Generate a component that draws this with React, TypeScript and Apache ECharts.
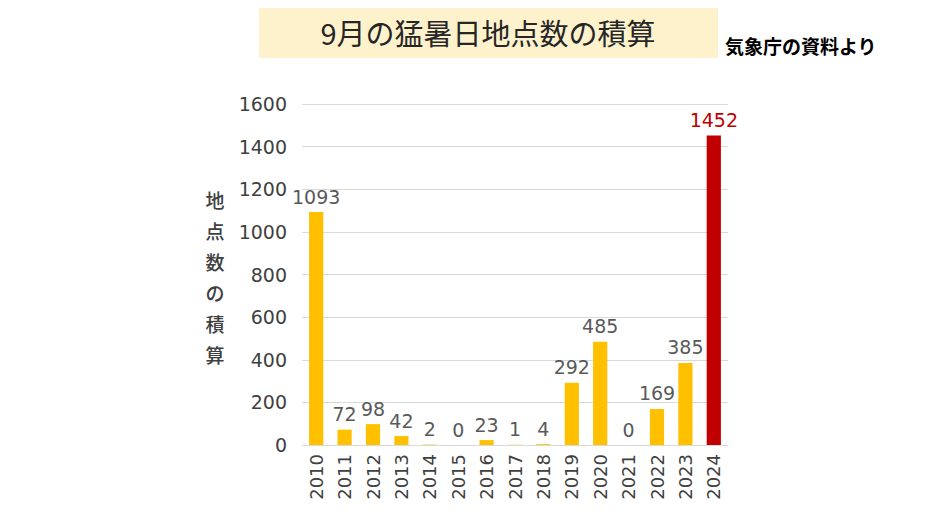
import React, { useEffect, useRef } from "react";
import * as echarts from "echarts";

const years = ["2010","2011","2012","2013","2014","2015","2016","2017","2018","2019","2020","2021","2022","2023","2024"];
const counts = [1093, 72, 98, 42, 2, 0, 23, 1, 4, 292, 485, 0, 169, 385, 1452];
const highlightYear = "2024";
const yTicks = [0, 200, 400, 600, 800, 1000, 1200, 1400, 1600];

const YELLOW = "#FFC000";
const RED = "#C00000";

export default function App() {
  const ref = useRef<HTMLDivElement>(null);
  useEffect(() => {
    if (!ref.current) return;
    const chart = echarts.init(ref.current, null, { renderer: "svg" });
    const data = counts.map((v, i) => {
      const hi = years[i] === highlightYear;
      return {
        value: v,
        itemStyle: { color: hi ? RED : YELLOW },
        label: { color: hi ? RED : "#595959" },
      };
    });
    chart.setOption({
      animation: false,
      backgroundColor: "#ffffff",
      grid: { left: 302, right: 206, top: 104, bottom: 80, containLabel: false },
      graphic: [
        { type: "rect", shape: { x: 259, y: 8, width: 459, height: 50 }, style: { fill: "#FEF2CD" } },
        {
          type: "text", x: 488, y: 32,
          style: { text: "9月の猛暑日地点数の積算", fontSize: 29, fill: "#262626", align: "center", verticalAlign: "middle", fontFamily: "Noto Sans CJK JP" },
        },
        {
          type: "text", x: 725, y: 45,
          style: { text: "気象庁の資料より", fontSize: 19, fontWeight: "bold", fill: "#000000", align: "left", verticalAlign: "middle", fontFamily: "Noto Sans CJK JP" },
        },
        {
          type: "text", x: 215, y: 277,
          style: { text: "地\n点\n数\nの\n積\n算", fontSize: 19, lineHeight: 31, fontWeight: 500, fill: "#404040", align: "center", verticalAlign: "middle", fontFamily: "Noto Sans CJK JP" },
        },
      ],
      xAxis: {
        type: "category",
        data: years,
        axisLine: { show: true, lineStyle: { color: "#D9D9D9" } },
        axisTick: { show: false },
        axisLabel: { rotate: 90, fontSize: 18, color: "#404040", margin: 9, fontFamily: "DejaVu Sans" },
      },
      yAxis: {
        type: "value",
        min: yTicks[0],
        max: yTicks[yTicks.length - 1],
        interval: 200,
        axisLine: { show: false },
        axisTick: { show: false },
        splitLine: { lineStyle: { color: "#D9D9D9", width: 1 } },
        axisLabel: { fontSize: 19, color: "#404040", margin: 15, fontFamily: "DejaVu Sans", formatter: (v: number) => String(v) },
      },
      series: [
        {
          type: "bar",
          data,
          barWidth: "50%",
          label: { show: true, position: "top", distance: 6, fontSize: 19, fontFamily: "DejaVu Sans" },
        },
      ],
    });
    return () => chart.dispose();
  }, []);
  return <div ref={ref} style={{ position: "fixed", left: 0, top: 0, width: 934, height: 525 }} />;
}
